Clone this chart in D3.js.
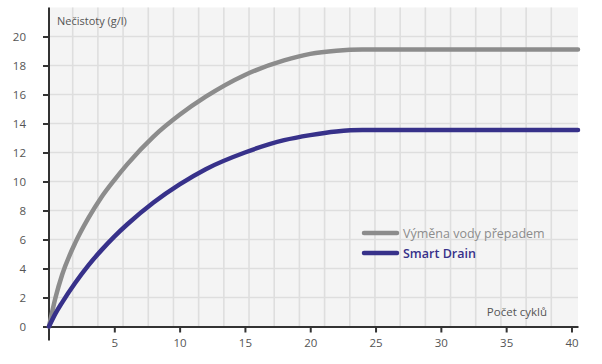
<!DOCTYPE html>
<head>
    <meta charset="utf-8">
    <script src="https://d3js.org/d3.v7.min.js"></script>
    <style>
        *{
            margin:0;
            padding:0;
        }
        body{
            background: #fff;
            font-family: 'Open Sans', sans-serif;
        }
        text{
            fill: #555;
        }
    </style>
</head>

<body>
<svg id="chart"></svg>

<script>
    // data
    const cycles  = [0, 0.5, 1, 2, 3, 4, 5, 6, 8, 10, 12, 15, 18, 20, 22, 24, 40.5];
    const overflow = [0, 2.0, 3.55, 5.75, 7.45, 8.9, 10.1, 11.2, 13.1, 14.6, 15.85, 17.35, 18.35, 18.8, 19.02, 19.1, 19.1];
    const smartDrain = [0, 0.9, 1.65, 3.0, 4.2, 5.25, 6.2, 7.05, 8.55, 9.8, 10.85, 12.0, 12.85, 13.2, 13.45, 13.55, 13.55];
    const xTicks = [5, 10, 15, 20, 25, 30, 35, 40];
    const yTicks = [0, 2, 4, 6, 8, 10, 12, 14, 16, 18, 20];
    const seriesNames = ["Výměna vody přepadem", "Smart Drain"];
    const seriesColors = ["#8c8c8c", "#37318a"];

    const width = 602, height = 364;
    const svg = d3.select("#chart")
        .attr("width", width)
        .attr("height", height);

    const x = d3.scaleLinear().domain([0, 40.5]).range([49, 578]);
    const y = d3.scaleLinear().domain([0, 22]).range([326.5, 7.5]);

    //plot background
    svg.append("rect")
        .attr("x", x(0))
        .attr("y", y(22))
        .attr("width", x(40.5) - x(0))
        .attr("height", y(0) - y(22))
        .attr("fill", "#f4f4f4");

    //vertical grid: background pattern of 21 cells
    const gx = d3.scaleLinear().domain([0, 21]).range([x(0) - 1.5, x(40.5) - 1.5]);
    svg.append("g")
        .selectAll("line")
        .data(d3.range(1, 21))
        .join("line")
        .attr("x1", d => gx(d))
        .attr("x2", d => gx(d))
        .attr("y1", y(22))
        .attr("y2", y(0))
        .attr("stroke", "#dedede")
        .attr("stroke-width", 1.6);

    //horizontal grid
    svg.append("g")
        .selectAll("line")
        .data(yTicks.filter(d => d > 0))
        .join("line")
        .attr("x1", x(0))
        .attr("x2", x(40.5))
        .attr("y1", d => y(d))
        .attr("y2", d => y(d))
        .attr("stroke", "#dedede")
        .attr("stroke-width", 1.6);

    //axes
    const xAxis = svg.append("g")
        .attr("transform", `translate(0,${y(0)})`)
        .call(d3.axisBottom(x).tickValues(xTicks).tickSize(6).tickPadding(6).tickSizeOuter(0));
    const yAxis = svg.append("g")
        .attr("transform", `translate(${x(0)},0)`)
        .call(d3.axisLeft(y).tickValues(yTicks).tickSize(6).tickPadding(17).tickSizeOuter(0));

    [xAxis, yAxis].forEach(a => {
        a.selectAll("path, line").attr("stroke", "#333").attr("stroke-width", 2);
        a.selectAll("text")
            .style("font-family", "'Open Sans', sans-serif")
            .style("font-size", "11.5px")
            .attr("fill", "#555");
    });
    // y axis runs a bit below the x axis
    yAxis.select(".domain").attr("d", `M0,${y(22)}V${y(0) + 14}`);

    //axis titles
    svg.append("text")
        .attr("x", 57)
        .attr("y", 25)
        .style("font-size", "11px")
        .text("Nečistoty (g/l)");
    svg.append("text")
        .attr("x", 547)
        .attr("y", 316)
        .attr("text-anchor", "end")
        .style("font-size", "11.5px")
        .text("Počet cyklů");

    //lines
    const line = d3.line()
        .x(d => x(d[0]))
        .y(d => y(d[1]))
        .curve(d3.curveMonotoneX);

    [overflow, smartDrain].forEach((vals, i) => {
        svg.append("path")
            .datum(cycles.map((c, j) => [c, vals[j]]))
            .attr("d", line)
            .attr("fill", "none")
            .attr("stroke", seriesColors[i])
            .attr("stroke-width", 4.5)
            .attr("stroke-linecap", "round");
    });

    //legend
    const legend = svg.append("g")
        .selectAll("g")
        .data(seriesNames)
        .join("g")
        .attr("transform", (d, i) => `translate(364,${233 + i * 20})`);
    legend.append("line")
        .attr("x1", 0)
        .attr("x2", 33)
        .attr("stroke", (d, i) => seriesColors[i])
        .attr("stroke-width", 4.5)
        .attr("stroke-linecap", "round");
    legend.append("text")
        .attr("x", 39)
        .attr("y", 4.5)
        .style("font-size", "12.5px")
        .style("fill", (d, i) => seriesColors[i])
        .style("font-weight", (d, i) => i == 1 ? 600 : 400)
        .text(d => d);
</script>
</body>
</html>
